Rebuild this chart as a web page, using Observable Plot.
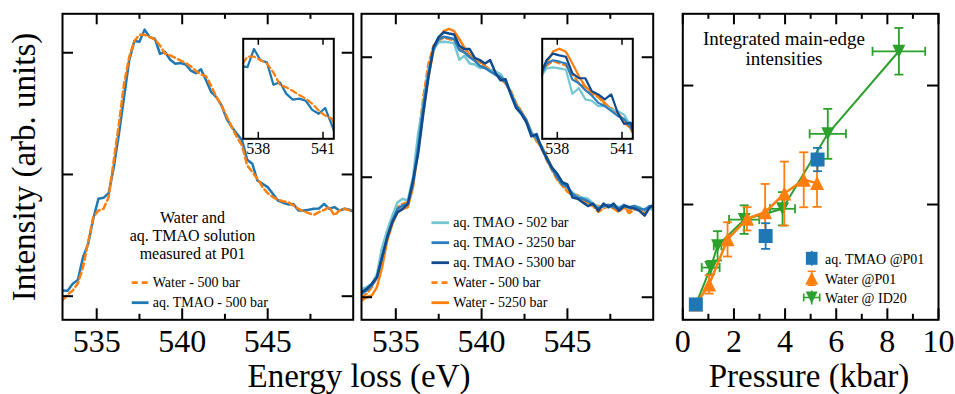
<!DOCTYPE html>
<html><head><meta charset="utf-8">
<script src="https://cdn.jsdelivr.net/npm/d3@7"></script>
<script src="https://cdn.jsdelivr.net/npm/@observablehq/plot@0.6"></script>
<style>
body{margin:0;background:#fff;}
#chart{position:relative;width:955px;height:394px;overflow:hidden;background:#fff;}
.layer{position:absolute;}
</style></head><body><div id="chart"></div>
<script>
// ---------------- DATA ----------------
const energy = [533.0,533.3,533.6,533.9,534.2,534.5,534.8,535.1,535.4,535.7,536.0,536.3,536.6,536.9,537.2,537.5,537.8,538.1,538.4,538.7,539.0,539.3,539.6,539.9,540.2,540.5,540.8,541.1,541.4,541.7,542.0,542.3,542.6,542.9,543.2,543.5,543.8,544.1,544.4,544.7,545.0,545.3,545.6,545.9,546.2,546.5,546.8,547.1,547.4,547.7,548.0,548.3,548.6,548.9,549.2,549.5,549.8,550.1];

// Panel 1 (measured at P01)
const p1Water500 = [-0.018,0.007,0.023,0.053,0.119,0.222,0.325,0.352,0.359,0.407,0.558,0.708,0.873,0.982,1.048,1.074,1.074,1.064,1.055,1.03,0.996,0.989,0.979,0.968,0.958,0.944,0.925,0.911,0.903,0.862,0.818,0.784,0.738,0.695,0.653,0.619,0.537,0.51,0.482,0.448,0.423,0.407,0.396,0.39,0.386,0.373,0.359,0.349,0.341,0.334,0.345,0.355,0.366,0.332,0.352,0.359,0.352,0.355];
const p1Tmao500 = [0.023,0.022,0.051,0.067,0.16,0.215,0.318,0.40,0.404,0.423,0.53,0.667,0.818,0.968,1.048,1.045,1.095,1.064,1.058,0.996,1.003,0.971,0.955,0.958,0.952,0.927,0.916,0.932,0.886,0.838,0.818,0.784,0.729,0.695,0.667,0.64,0.56,0.544,0.475,0.462,0.448,0.421,0.393,0.384,0.377,0.379,0.352,0.352,0.355,0.359,0.36,0.379,0.359,0.366,0.352,0.359,0.355,0.345];

// Panel 2 (pressure series)
const p2Tmao502 = [0.035,0.042,0.056,0.097,0.208,0.278,0.34,0.396,0.41,0.403,0.5,0.681,0.806,0.944,1.035,1.062,1.065,1.062,1.058,0.99,1.006,0.974,0.97,0.955,0.955,0.946,0.941,0.93,0.899,0.855,0.80,0.77,0.735,0.69,0.66,0.63,0.58,0.54,0.505,0.475,0.455,0.435,0.42,0.415,0.41,0.39,0.375,0.38,0.375,0.385,0.375,0.38,0.37,0.38,0.375,0.36,0.37,0.36];
const p2Tmao3250 = [0.014,0.028,0.049,0.083,0.167,0.25,0.319,0.368,0.382,0.389,0.472,0.625,0.792,0.931,1.035,1.076,1.085,1.081,1.076,1.03,1.02,1.0,0.985,0.964,0.955,0.941,0.927,0.918,0.895,0.85,0.80,0.77,0.74,0.68,0.665,0.625,0.575,0.535,0.50,0.47,0.46,0.43,0.415,0.41,0.40,0.385,0.37,0.38,0.385,0.375,0.37,0.385,0.375,0.38,0.37,0.365,0.38,0.37];
const p2Tmao5300 = [0.021,0.035,0.056,0.083,0.167,0.25,0.313,0.354,0.368,0.389,0.486,0.597,0.764,0.917,1.042,1.085,1.104,1.099,1.095,1.048,1.034,1.034,0.997,0.988,0.974,0.988,0.936,0.904,0.908,0.845,0.79,0.765,0.73,0.67,0.68,0.62,0.58,0.54,0.515,0.48,0.47,0.415,0.41,0.395,0.38,0.39,0.36,0.39,0.375,0.39,0.36,0.38,0.375,0.37,0.36,0.34,0.375,0.39];
const p2Water500 = [0.0,0.014,0.042,0.083,0.181,0.278,0.333,0.375,0.389,0.396,0.472,0.653,0.833,0.972,1.049,1.069,1.083,1.076,1.07,1.045,1.02,1.01,0.99,0.98,0.96,0.95,0.935,0.915,0.89,0.86,0.81,0.775,0.735,0.685,0.655,0.62,0.57,0.53,0.49,0.465,0.44,0.425,0.42,0.405,0.39,0.38,0.355,0.37,0.38,0.37,0.355,0.375,0.35,0.365,0.375,0.355,0.37,0.365];
const p2Water5250 = [-0.014,0.0,0.007,0.042,0.125,0.236,0.306,0.354,0.368,0.375,0.458,0.611,0.778,0.917,1.028,1.076,1.11,1.118,1.109,1.076,1.04,1.01,0.995,0.983,0.964,0.946,0.936,0.908,0.892,0.855,0.805,0.775,0.74,0.69,0.65,0.63,0.585,0.54,0.50,0.47,0.45,0.43,0.425,0.41,0.395,0.385,0.38,0.375,0.38,0.37,0.365,0.375,0.36,0.38,0.37,0.35,0.375,0.37];

// Panel 3 (integrated main-edge intensities)
const tmaoP01Pressure = [0.51, 3.24, 5.27];
const tmaoP01Intensity = [0.916, 0.9735, 1.0378];
const tmaoP01Err = [0.0, 0.0108, 0.0098];

const waterP01Pressure = [0.51, 1.03, 1.75, 2.51, 3.22, 3.97, 4.73, 5.25];
const waterP01Intensity = [0.916, 0.9328, 0.9707, 0.988, 0.9935, 1.0092, 1.0208, 1.018];
const waterP01Err = [0.0, 0.0077, 0.0144, 0.0098, 0.0238, 0.0269, 0.0231, 0.020];

const waterID20Pressure = [0.51, 1.09, 1.36, 2.40, 3.90, 5.67, 8.45];
const waterID20Intensity = [0.916, 0.947, 0.9653, 0.9873, 0.9964, 1.0594, 1.1288];
const waterID20Err = [0.0, 0.0056, 0.0123, 0.012, 0.014, 0.021, 0.0196];
const waterID20PressureErr = [0.0, 0.35, 0.15, 0.59, 0.49, 0.71, 1.03];

// Tick labels
const energyTicks = [535, 540, 545];
const energyMinorTicks = [537.5, 542.5, 547.5];
const insetTicks = [538, 541];
const pressureTicks = [0, 2, 4, 6, 8, 10];
const pressureMinorTicks = [1, 3, 5, 7, 9];
const intensityTicks = [0, 0.5, 1.0];
const p3IntensityTicks = [1.0, 1.1];

// ---------------- STYLE / LAYOUT ----------------
const H = 394, FT = 13.3, FB = 319.3;
const SERIF = "'Liberation Serif','Times New Roman',serif";
const C = {blue:"#1f77b4", orange:"#ff7f0e", green:"#2ca02c", teal:"#74c6d2", mid:"#2b7dbd", navy:"#0e4a8e"};
const chart = document.getElementById("chart");
const series = arr => energy.map((E, i) => ({E, I: arr[i]}));

function place(svg, left, top) {
  const d = document.createElement("div");
  d.className = "layer"; d.style.left = left + "px"; d.style.top = top + "px";
  d.appendChild(svg); chart.appendChild(d);
}
const baseStyle = {background: "transparent", overflow: "visible", fontFamily: SERIF, maxWidth: "none", color: "black"};

function frameTicks(fw, fh, xMaj, xMin, yMaj, maj, min, sw) {
  const o = {stroke: "black", strokeWidth: sw};
  const m = [
    Plot.ruleX(xMaj, {x: d => d, insetTop: fh - maj, ...o}),
    Plot.ruleX(xMaj, {x: d => d, insetBottom: fh - maj, ...o})
  ];
  if (xMin) m.push(
    Plot.ruleX(xMin, {x: d => d, insetTop: fh - min, ...o}),
    Plot.ruleX(xMin, {x: d => d, insetBottom: fh - min, ...o}));
  if (yMaj) m.push(
    Plot.ruleY(yMaj, {y: d => d, insetRight: fw - maj, ...o}),
    Plot.ruleY(yMaj, {y: d => d, insetLeft: fw - maj, ...o}));
  return m;
}

function spectrumPanel({width, ml, mr, yDomain, lines}) {
  const fw = width - ml - mr, fh = FB - FT;
  return Plot.plot({
    width, height: H, marginLeft: ml, marginRight: mr, marginTop: FT, marginBottom: H - FB,
    x: {domain: [533, 550], axis: null}, y: {domain: yDomain, axis: null},
    style: {...baseStyle, fontSize: "32px"},
    marks: [
      ...lines.map(l => Plot.line(series(l.data), {x: "E", y: "I", stroke: l.color, strokeWidth: 2.5, strokeDasharray: l.dash, clip: true})),
      ...frameTicks(fw, fh, energyTicks, energyMinorTicks, intensityTicks, 11, 5.5, 2),
      Plot.text(energyTicks, {x: d => d, text: d => String(d), frameAnchor: "bottom", lineAnchor: "top", dy: 9.7, fontSize: 32, fill: "black"}),
      Plot.frame({stroke: "black", strokeWidth: 2})
    ]
  });
}

function insetPanel({yDomain, lines}) {
  const width = 100, height = 140, ml = 2.7, mr = 6.7, mt = 8.3, mb = 31.7;
  const fw = width - ml - mr, fh = height - mt - mb;
  return Plot.plot({
    width, height, marginLeft: ml, marginRight: mr, marginTop: mt, marginBottom: mb,
    x: {domain: [537.3, 541.5], axis: null}, y: {domain: yDomain, axis: null},
    style: {...baseStyle, fontSize: "16px"},
    marks: [
      Plot.frame({fill: "white", stroke: null}),
      ...lines.map(l => Plot.line(series(l.data), {x: "E", y: "I", stroke: l.color, strokeWidth: 2.2, strokeDasharray: l.dash, clip: true})),
      ...frameTicks(fw, fh, insetTicks, null, null, 6.5, 0, 1.5),
      Plot.text(insetTicks, {x: d => d, text: d => String(d), frameAnchor: "bottom", lineAnchor: "top", dy: 3.5, fontSize: 16, fill: "black"}),
      Plot.frame({stroke: "black", strokeWidth: 2})
    ]
  });
}

const p1Lines = [
  {data: p1Tmao500, color: C.blue},
  {data: p1Water500, color: C.orange, dash: "6,3.5"}
];
const p2Lines = [
  {data: p2Water500, color: C.orange, dash: "6,3.5"},
  {data: p2Water5250, color: C.orange},
  {data: p2Tmao502, color: C.teal},
  {data: p2Tmao3250, color: C.mid},
  {data: p2Tmao5300, color: C.navy}
];

place(spectrumPanel({width: 360, ml: 62, mr: 7.3, yDomain: [-0.097, 1.160], lines: p1Lines}), 0, 0);
place(spectrumPanel({width: 300, ml: 4, mr: 4.3, yDomain: [-0.094, 1.181], lines: p2Lines}), 357, 0);
place(insetPanel({yDomain: [0.847, 1.123], lines: p1Lines}), 240, 30);
place(insetPanel({yDomain: [0.862, 1.146], lines: p2Lines}), 539, 30);

// ---- Panel 3 ----
const sq = {draw(c, s) { const h = Math.sqrt(s) / 2; c.moveTo(-h, -h); c.lineTo(h, -h); c.lineTo(h, h); c.lineTo(-h, h); c.closePath(); }};
const triUp = {draw(c, s) { const h = Math.sqrt(s) / 2; c.moveTo(0, -h); c.lineTo(h, h); c.lineTo(-h, h); c.closePath(); }};
const triDown = {draw(c, s) { const h = Math.sqrt(s) / 2; c.moveTo(0, h); c.lineTo(h, -h); c.lineTo(-h, -h); c.closePath(); }};
const capH = {draw(c, s) { const h = Math.sqrt(s) / 2; c.moveTo(-h, 0); c.lineTo(h, 0); }};
const capV = {draw(c, s) { const h = Math.sqrt(s) / 2; c.moveTo(0, -h); c.lineTo(0, h); }};
const rOf = side => side / Math.sqrt(Math.PI);

const tmao = tmaoP01Pressure.map((p, i) => ({p, v: tmaoP01Intensity[i], e: tmaoP01Err[i], xe: 0}));
const wP01 = waterP01Pressure.map((p, i) => ({p, v: waterP01Intensity[i], e: waterP01Err[i], xe: 0}));
const wID20 = waterID20Pressure.map((p, i) => ({p, v: waterID20Intensity[i], e: waterID20Err[i], xe: waterID20PressureErr[i]}));

function errMarks(data, color) {
  const ye = data.filter(d => d.e > 0), xe = data.filter(d => d.xe > 0);
  const o = {stroke: color, strokeWidth: 1.8};
  return [
    Plot.ruleX(ye, {x: "p", y1: d => d.v - d.e, y2: d => d.v + d.e, ...o}),
    Plot.dot(ye.flatMap(d => [{p: d.p, v: d.v - d.e}, {p: d.p, v: d.v + d.e}]), {x: "p", y: "v", symbol: capH, r: rOf(9), fill: "none", ...o}),
    Plot.ruleY(xe, {y: "v", x1: d => d.p - d.xe, x2: d => d.p + d.xe, ...o}),
    Plot.dot(xe.flatMap(d => [{p: d.p - d.xe, v: d.v}, {p: d.p + d.xe, v: d.v}]), {x: "p", y: "v", symbol: capV, r: rOf(9), fill: "none", ...o})
  ];
}

{
  const width = 295, ml = 22.3, mr = 17, fw = width - ml - mr, fh = FB - FT;
  const p3 = Plot.plot({
    width, height: H, marginLeft: ml, marginRight: mr, marginTop: FT, marginBottom: H - FB,
    x: {domain: [0, 10], axis: null}, y: {domain: [0.9031, 1.1603], axis: null},
    style: {...baseStyle, fontSize: "32px"},
    marks: [
      ...errMarks(wID20, C.green),
      Plot.line(wID20, {x: "p", y: "v", stroke: C.green, strokeWidth: 2}),
      Plot.dot(wID20, {x: "p", y: "v", symbol: triDown, r: rOf(13), fill: C.green, stroke: "none"}),
      ...errMarks(wP01, C.orange),
      Plot.line(wP01, {x: "p", y: "v", stroke: C.orange, strokeWidth: 2.5}),
      Plot.dot(wP01, {x: "p", y: "v", symbol: triUp, r: rOf(14), fill: C.orange, stroke: "none"}),
      ...errMarks(tmao, C.blue),
      Plot.dot(tmao, {x: "p", y: "v", symbol: sq, r: rOf(14), fill: C.blue, stroke: "none"}),
      ...frameTicks(fw, fh, pressureTicks, pressureMinorTicks, p3IntensityTicks, 11, 5.5, 2),
      Plot.text(pressureTicks, {x: d => d, text: d => String(d), frameAnchor: "bottom", lineAnchor: "top", dy: 9.7, fontSize: 32, fill: "black"}),
      Plot.frame({stroke: "black", strokeWidth: 2})
    ]
  });
  place(p3, 660, 0);
}

// ---------------- TEXT, LEGENDS ----------------
const ov = d3.select(chart).append("svg").attr("class", "layer")
  .attr("width", 955).attr("height", 394).style("left", "0px").style("top", "0px")
  .style("font-family", SERIF).style("pointer-events", "none");

ov.append("text").attr("transform", "translate(34.5,167) rotate(-90)").attr("text-anchor", "middle")
  .attr("font-size", 33).text("Intensity (arb. units)");
ov.append("text").attr("x", 359).attr("y", 386.7).attr("text-anchor", "middle").attr("font-size", 33).text("Energy loss (eV)");
ov.append("text").attr("x", 809).attr("y", 386.7).attr("text-anchor", "middle").attr("font-size", 33).text("Pressure (kbar)");

// panel 1 annotation
[["Water and", 222.7], ["aq. TMAO solution", 240.7], ["measured at P01", 258.5]].forEach(([t, y]) =>
  ov.append("text").attr("x", 192.5).attr("y", y).attr("text-anchor", "middle").attr("font-size", 16).text(t));

// panel 3 title
[["Integrated main-edge", 45], ["intensities", 65]].forEach(([t, y]) =>
  ov.append("text").attr("x", 784).attr("y", y).attr("text-anchor", "middle").attr("font-size", 19).text(t));

function lineLegend(items, x0, x1, tx, y0, step) {
  items.forEach((it, i) => {
    const y = y0 + i * step;
    ov.append("line").attr("x1", x0).attr("x2", x1).attr("y1", y).attr("y2", y)
      .attr("stroke", it.color).attr("stroke-width", 2.8).attr("stroke-dasharray", it.dash || null);
    ov.append("text").attr("x", tx).attr("y", y + 4).attr("font-size", 14).text(it.label);
  });
}
lineLegend([
  {label: "Water - 500 bar", color: C.orange, dash: "6,4"},
  {label: "aq. TMAO - 500 bar", color: C.blue}
], 131.7, 148.5, 152.7, 282.7, 20);
lineLegend([
  {label: "aq. TMAO - 502 bar", color: C.teal},
  {label: "aq. TMAO - 3250 bar", color: C.mid},
  {label: "aq. TMAO - 5300 bar", color: C.navy},
  {label: "Water - 500 bar", color: C.orange, dash: "6,4"},
  {label: "Water - 5250 bar", color: C.orange}
], 431.5, 449, 453.3, 222.7, 20);

// panel 3 legend
const lg = [
  {label: "aq. TMAO @P01", color: C.blue, sym: "sq", y: 258.3},
  {label: "Water @P01", color: C.orange, sym: "up", y: 278.3},
  {label: "Water @ ID20", color: C.green, sym: "down", y: 297.5}
];
lg.forEach(it => {
  const x = 811.7, y = it.y, g = ov.append("g").attr("fill", it.color).attr("stroke", it.color).attr("stroke-width", 1.6);
  if (it.sym === "sq") {
    g.append("line").attr("x1", x).attr("x2", x).attr("y1", y - 7.5).attr("y2", y + 7.5);
    g.append("rect").attr("x", x - 5.8).attr("y", y - 6.5).attr("width", 11.6).attr("height", 13).attr("stroke", "none");
  } else if (it.sym === "up") {
    g.append("line").attr("x1", x).attr("x2", x).attr("y1", y - 7).attr("y2", y + 7);
    g.append("line").attr("x1", x - 4).attr("x2", x + 4).attr("y1", y - 7).attr("y2", y - 7);
    g.append("line").attr("x1", x - 4).attr("x2", x + 4).attr("y1", y + 7).attr("y2", y + 7);
    g.append("path").attr("d", `M${x},${y - 6.5}L${x + 6.5},${y + 6.5}L${x - 6.5},${y + 6.5}Z`).attr("stroke", "none");
  } else {
    g.append("line").attr("x1", x).attr("x2", x).attr("y1", y - 7).attr("y2", y + 7);
    g.append("line").attr("x1", x - 8).attr("x2", x + 8).attr("y1", y).attr("y2", y);
    g.append("line").attr("x1", x - 8).attr("x2", x - 8).attr("y1", y - 4).attr("y2", y + 4);
    g.append("line").attr("x1", x + 8).attr("x2", x + 8).attr("y1", y - 4).attr("y2", y + 4);
    g.append("path").attr("d", `M${x},${y + 6}L${x + 6},${y - 6}L${x - 6},${y - 6}Z`).attr("stroke", "none");
  }
  ov.append("text").attr("x", 825).attr("y", y + 5.5).attr("font-size", 14).text(it.label);
});
</script></body></html>
